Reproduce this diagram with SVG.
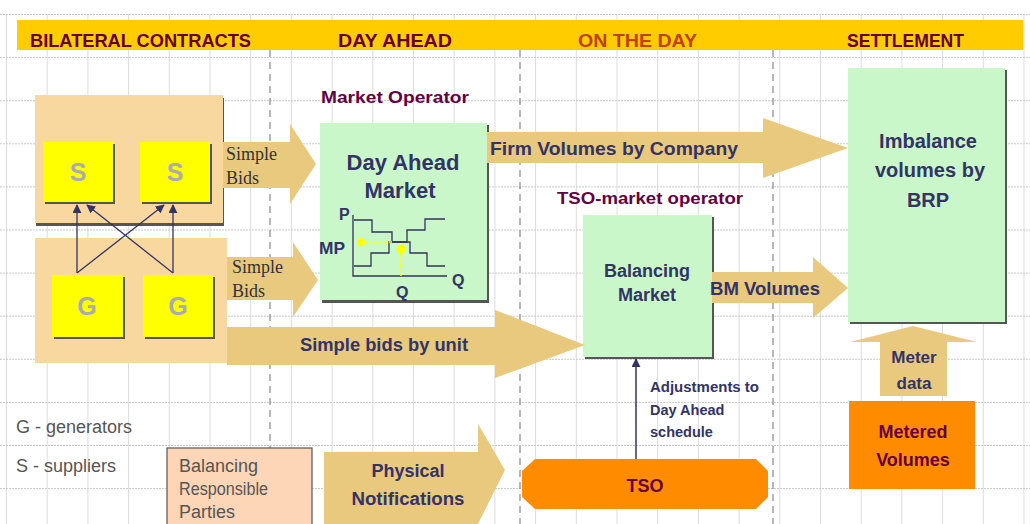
<svg xmlns="http://www.w3.org/2000/svg" width="1030" height="524" viewBox="0 0 1030 524">
<defs>
<pattern id="gv" x="6" y="0" width="40.7" height="524" patternUnits="userSpaceOnUse"><line x1="0.5" y1="0" x2="0.5" y2="524" stroke="#dcdcdc" stroke-width="1"/></pattern>
<pattern id="gh" x="0" y="14" width="1030" height="43.1" patternUnits="userSpaceOnUse"><line x1="0" y1="0.5" x2="1030" y2="0.5" stroke="#c8c8c8" stroke-width="1" stroke-dasharray="2,1"/></pattern>
<marker id="ah" viewBox="0 0 10 10" refX="9" refY="5" markerWidth="9" markerHeight="9" markerUnits="userSpaceOnUse" orient="auto"><path d="M0,0 L10,5 L0,10 z" fill="#333366"/></marker>
<style>
.hd{font-family:"Liberation Sans",Arial,sans-serif;font-weight:bold;font-size:19px}
.nv{font-family:"Liberation Sans",Arial,sans-serif;font-weight:bold;fill:#333366}
.pu{font-family:"Liberation Sans",Arial,sans-serif;font-weight:bold;fill:#660044}
.sf{font-family:"Liberation Serif","Times New Roman",serif;font-size:18px;fill:#333}
.tan{fill:#E8C97E}
.box{fill:#F9D8A0}
.grn{fill:#C9F7C9}
.shd{fill:#555}
.yel{fill:#FFFF00}
.let{font-family:"Liberation Sans",Arial,sans-serif;font-weight:bold;font-size:25px;fill:#A9ABB4;text-anchor:middle}
.ch{fill:none;stroke:#333355;stroke-width:1.3}
.dash{stroke:#888;stroke-width:1.2;stroke-dasharray:7,5}
.leg{font-family:"Liberation Sans",Arial,sans-serif;font-size:18px;fill:#555}
.org{fill:#FF8C00}
</style>
</defs>
<rect width="1030" height="524" fill="#fff"/>
<rect x="0" y="14" width="1030" height="510" fill="url(#gv)"/>
<rect x="0" y="0" width="1030" height="524" fill="url(#gh)"/>

<g id="header">
<rect x="17" y="20" width="1006" height="30" fill="#FFCC00"/>
<text class="hd" x="30" y="47" fill="#660033" textLength="221" lengthAdjust="spacingAndGlyphs">BILATERAL CONTRACTS</text>
<text class="hd" x="338" y="47" fill="#660033" textLength="114" lengthAdjust="spacingAndGlyphs">DAY AHEAD</text>
<text class="hd" x="578" y="47" fill="#C04010" textLength="119" lengthAdjust="spacingAndGlyphs">ON THE DAY</text>
<text class="hd" x="847" y="47" fill="#660033" textLength="117" lengthAdjust="spacingAndGlyphs">SETTLEMENT</text>
</g>

<g id="separators">
<line class="dash" x1="270" y1="50" x2="270" y2="524"/>
<line class="dash" x1="520" y1="50" x2="520" y2="524"/>
<line class="dash" x1="773" y1="50" x2="773" y2="524"/>
</g>

<g id="suppliers-group">
<rect class="shd" x="36" y="98" width="188" height="128"/>
<rect class="box" x="35" y="95" width="188" height="128"/>
</g>
<g id="generators-group">
<rect class="box" x="35" y="238" width="192" height="125"/>
</g>

<g id="S1"><rect class="shd" x="45" y="144" width="70" height="60"/><rect class="yel" x="43" y="142" width="70" height="60"/><text class="let" x="78" y="181">S</text></g>
<g id="S2"><rect class="shd" x="142" y="144" width="70" height="60"/><rect class="yel" x="140" y="142" width="70" height="60"/><text class="let" x="175" y="181">S</text></g>
<g id="G1"><rect class="shd" x="54" y="277" width="71" height="62"/><rect class="yel" x="52" y="275" width="71" height="62"/><text class="let" x="87" y="315">G</text></g>
<g id="G2"><rect class="shd" x="145" y="277" width="70" height="62"/><rect class="yel" x="143" y="275" width="70" height="62"/><text class="let" x="178" y="315">G</text></g>

<g id="market-operator">
<text class="pu" x="321" y="103" font-size="17" textLength="148" lengthAdjust="spacingAndGlyphs">Market Operator</text>
<rect class="shd" x="322" y="125" width="167" height="178"/>
<rect class="grn" x="320" y="123" width="167" height="177"/>
<text class="nv" x="403" y="170" font-size="22" text-anchor="middle">Day Ahead</text>
<text class="nv" x="400" y="198" font-size="22" text-anchor="middle">Market</text>
<text class="nv" x="339" y="220" font-size="16">P</text>
<text class="nv" x="319" y="254" font-size="17" textLength="26" lengthAdjust="spacingAndGlyphs">MP</text>
<text class="nv" x="452" y="286" font-size="16">Q</text>
<text class="nv" x="396" y="298" font-size="16">Q</text>
<polyline class="ch" points="353,215 353,276 447,276"/>
<polyline class="ch" points="354,220 372,220 372,232 392,232 392,242 410,242 410,253 427,253 427,266 445,266"/>
<polyline class="ch" points="354,266 371,266 371,253 389,253 389,242 407,242 407,230 425,230 425,219 445,219"/>
<line x1="364" y1="242" x2="392" y2="242" stroke="#FFFF00" stroke-width="1.5" stroke-dasharray="3,2"/>
<line x1="401" y1="254" x2="401" y2="276" stroke="#FFFF00" stroke-width="1.5" stroke-dasharray="3,2"/>
<circle cx="361" cy="242" r="4" fill="#FFFF00"/>
<circle cx="401" cy="249" r="4.5" fill="#FFFF00"/>
</g>

<g id="balancing-market">
<text class="pu" x="557" y="204" font-size="17" textLength="186" lengthAdjust="spacingAndGlyphs">TSO-market operator</text>
<rect class="shd" x="585" y="217" width="129" height="142"/>
<rect class="grn" x="583" y="215" width="129" height="142"/>
<text class="nv" x="647" y="277" font-size="18" text-anchor="middle">Balancing</text>
<text class="nv" x="647" y="301" font-size="18" text-anchor="middle">Market</text>
</g>

<g id="imbalance">
<rect class="shd" x="850" y="70" width="157" height="254"/>
<rect class="grn" x="848" y="68" width="157" height="254"/>
<text class="nv" x="928" y="148" font-size="20" text-anchor="middle">Imbalance</text>
<text class="nv" x="930" y="177" font-size="20" text-anchor="middle">volumes by</text>
<text class="nv" x="928" y="207" font-size="20" text-anchor="middle">BRP</text>
</g>

<g id="metered-volumes">
<rect class="org" x="849" y="401" width="126" height="88"/>
<text class="pu" x="913" y="438" font-size="18" text-anchor="middle" fill="#660033">Metered</text>
<text class="pu" x="913" y="466" font-size="18" text-anchor="middle" fill="#660033">Volumes</text>
</g>

<g id="TSO">
<polygon class="org" points="535,459 756,459 768,471 768,497 756,509 535,509 522,497 522,471"/>
<text class="pu" x="645" y="492" font-size="18" text-anchor="middle" fill="#660033">TSO</text>
</g>

<g id="brp">
<rect x="167" y="448" width="145" height="80" fill="#FCD6B6" stroke="#555" stroke-width="1.2"/>
<text class="leg" x="179" y="472" font-size="15" fill="#999">Balancing</text>
<text class="leg" x="179" y="495" font-size="15" fill="#999" textLength="89" lengthAdjust="spacingAndGlyphs">Responsible</text>
<text class="leg" x="179" y="518" font-size="15" fill="#999">Parties</text>
</g>

<g id="legend">
<text class="leg" x="16" y="433">G - generators</text>
<text class="leg" x="16" y="472">S - suppliers</text>
</g>

<g id="connectors">
<line x1="77" y1="273" x2="77" y2="205" stroke="#333366" stroke-width="1.3" marker-end="url(#ah)"/>
<line x1="77" y1="273" x2="164" y2="205" stroke="#333366" stroke-width="1.3" marker-end="url(#ah)"/>
<line x1="173" y1="273" x2="173" y2="205" stroke="#333366" stroke-width="1.3" marker-end="url(#ah)"/>
<line x1="173" y1="273" x2="87" y2="205" stroke="#333366" stroke-width="1.3" marker-end="url(#ah)"/>
<line x1="636" y1="459" x2="636" y2="359" stroke="#333366" stroke-width="1.5" marker-end="url(#ah)"/>

<polygon class="tan" points="223,142 290,142 290,124 316,164 290,204 290,188 223,188"/>
<text class="sf" x="226" y="160">Simple</text>
<text class="sf" x="226" y="184">Bids</text>

<polygon class="tan" points="227,257 293,257 293,242 318,280 293,317 293,300 227,300"/>
<text class="sf" x="232" y="273">Simple</text>
<text class="sf" x="232" y="297">Bids</text>

<polygon class="tan" points="227,327 495,327 495,310 585,345 495,378 495,365 227,365"/>
<text class="nv" x="300" y="351" font-size="18" textLength="168" lengthAdjust="spacingAndGlyphs">Simple bids by unit</text>

<polygon class="tan" points="487,132 763,132 763,118 848,148 763,178 763,163 487,163"/>
<text class="nv" x="490" y="155" font-size="18" textLength="248" lengthAdjust="spacingAndGlyphs">Firm Volumes by Company</text>

<polygon class="tan" points="712,272 813,272 813,257 848,288 813,318 813,303 712,303"/>
<text class="nv" x="710" y="295" font-size="18" textLength="110" lengthAdjust="spacingAndGlyphs">BM Volumes</text>

<polygon class="tan" points="880,396 947,396 947,342 977,342 913,326 850,342 880,342"/>
<text class="nv" x="914" y="363" font-size="17" text-anchor="middle">Meter</text>
<text class="nv" x="914" y="389" font-size="17" text-anchor="middle">data</text>

<polygon class="tan" points="324,452 478,452 478,424 505,470 478,524 324,524"/>
<text class="nv" x="408" y="477" font-size="18" text-anchor="middle">Physical</text>
<text class="nv" x="408" y="505" font-size="18" text-anchor="middle" textLength="113" lengthAdjust="spacingAndGlyphs">Notifications</text>

<text class="nv" x="650" y="392" font-size="14.5" textLength="109" lengthAdjust="spacingAndGlyphs">Adjustments to</text>
<text class="nv" x="650" y="415" font-size="14.5">Day Ahead</text>
<text class="nv" x="650" y="437" font-size="14.5">schedule</text>
</g>
</svg>
